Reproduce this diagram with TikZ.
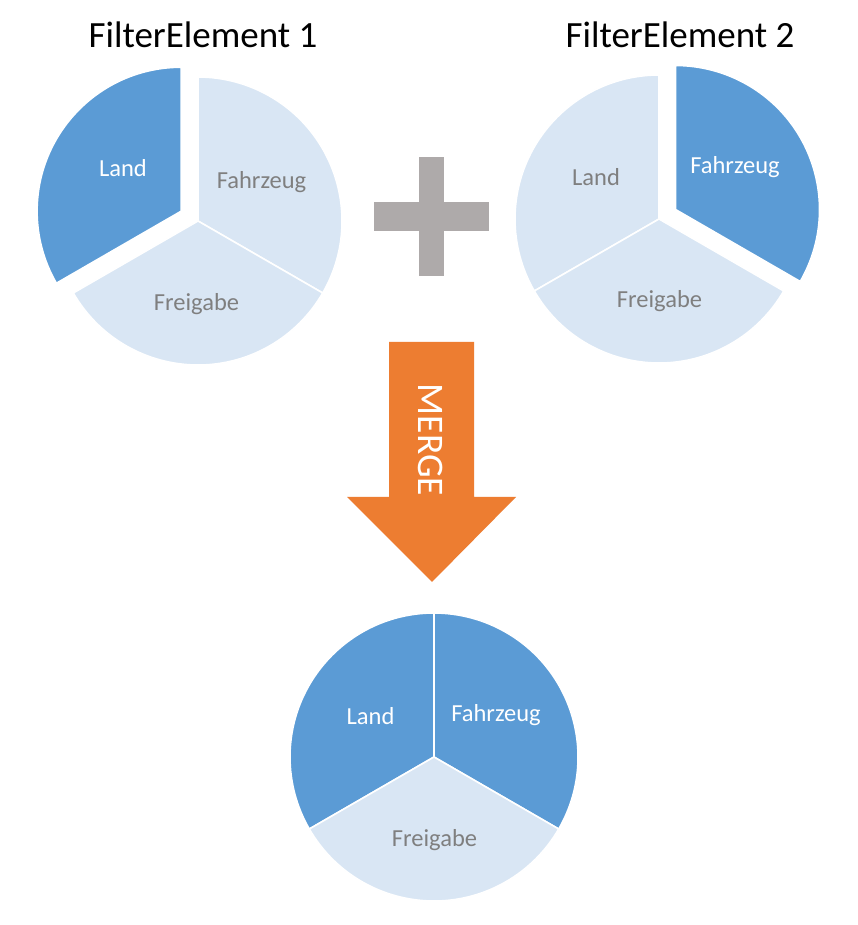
\documentclass[tikz,border=0pt]{standalone}
\usepackage{fontspec}
\setmainfont{Carlito}
\definecolor{dblue}{HTML}{5B9BD5}
\definecolor{lblue}{HTML}{D9E6F4}
\definecolor{lgray}{HTML}{7F7F7F}
\definecolor{pgray}{HTML}{AEAAAA}
\definecolor{orng}{HTML}{ED7D31}
\newcommand{\pieslice}[5]{% center, start, end, fill, radius
  \draw[slicestyle, fill=#4] (#1) -- ++(#2:#5) arc[start angle=#2, end angle=#3, radius=#5] -- cycle;}
\begin{document}
\begin{tikzpicture}[x=1pt,y=1pt,
  slicestyle/.style={draw=white, line width=1.6pt, line join=round},
  title/.style={font=\fontsize{37}{40}\selectfont, text=black, anchor=base, inner sep=0pt},
  lbl/.style={font=\fontsize{24.5}{28}\selectfont, anchor=base, inner sep=0pt},
  darklbl/.style={lbl, text=white},
  lightlbl/.style={lbl, text=lgray}]
\useasboundingbox[fill=white] (0,0) rectangle (857,925);

% Pie 1
\coordinate (c1) at (198,704);
\coordinate (c1x) at (181.1,713.75);
\pieslice{c1}{-30}{90}{lblue}{144}
\pieslice{c1}{210}{330}{lblue}{144}
\pieslice{c1x}{90}{210}{dblue}{144}
\node[title] (t1) at (203,877) {FilterElement 1};
\node[darklbl] (l1) at (123,748) {Land};
\node[lightlbl] (f1) at (261.5,736) {Fahrzeug};
\node[lightlbl] (g1) at (196.5,614) {Freigabe};

% Pie 2
\coordinate (c2) at (659,706);
\coordinate (c2x) at (675.5,715.5);
\pieslice{c2}{90}{210}{lblue}{144}
\pieslice{c2}{210}{330}{lblue}{144}
\pieslice{c2x}{-30}{90}{dblue}{144}
\node[title] (t2) at (680,877) {FilterElement 2};
\node[lightlbl] (l2) at (596,739) {Land};
\node[darklbl] (f2) at (735,751) {Fahrzeug};
\node[lightlbl] (g2) at (659.5,617) {Freigabe};

% Plus
\fill[pgray] (419,649) rectangle (444,768);
\fill[pgray] (374,694) rectangle (489,723);

% Merge arrow
\fill[orng] (389,583) -- (474,583) -- (474,428) -- (516,428) -- (432,343)
  -- (347,428) -- (389,428) -- cycle;
\node[font=\fontsize{37.5}{40}\selectfont, text=white, rotate=-90, inner sep=0pt] (m) at (430.5,485) {MERGE};

% Pie 3
\coordinate (c3) at (434,168);
\pieslice{c3}{90}{210}{dblue}{144}
\pieslice{c3}{-30}{90}{dblue}{144}
\pieslice{c3}{210}{330}{lblue}{144}
\node[darklbl] (l3) at (370.5,200) {Land};
\node[darklbl] (f3) at (496,203) {Fahrzeug};
\node[lightlbl] (g3) at (434.5,78) {Freigabe};
\end{tikzpicture}
\end{document}
